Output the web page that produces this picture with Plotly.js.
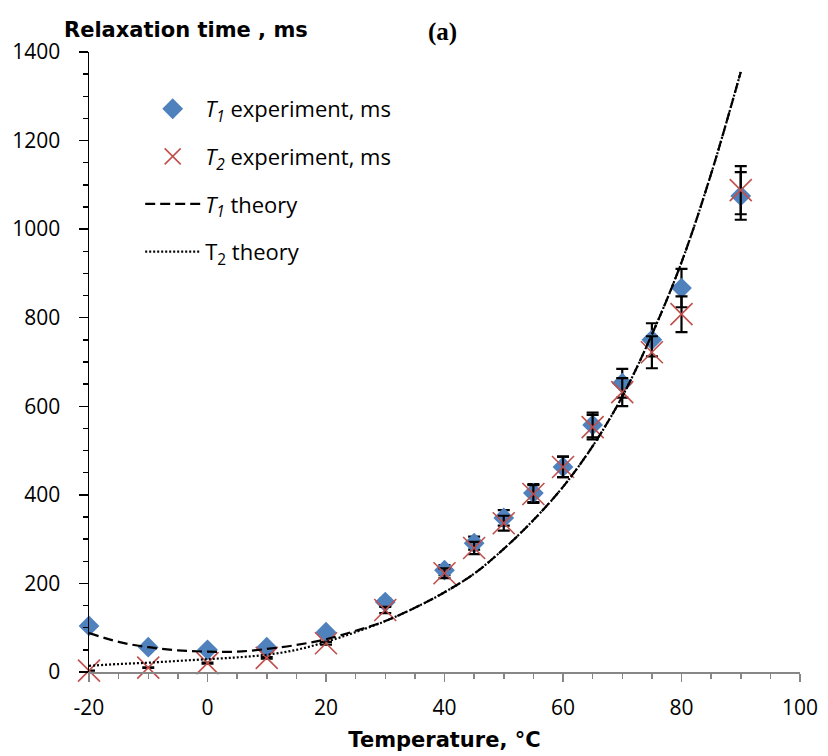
<!DOCTYPE html>
<html><head><meta charset="utf-8">
<script src="https://cdn.plot.ly/plotly-3.0.1.min.js"></script>
<style>body{margin:0;background:#fff}#c{width:828px;height:756px}</style>
</head><body><div id="c"></div>
<script>
// Experimental data
const tempExp = [-20, -10, 0, 10, 20, 30, 40, 45, 50, 55, 60, 65, 70, 75, 80, 90];
const t1Exp   = [104, 56, 50, 56, 90, 158, 230, 291, 348, 404, 463, 558, 652, 750, 867, 1075];
const t2Exp   = [3, 10, 20, 32, 65, 140, 223, 280, 336, 402, 463, 553, 632, 722, 808, 1088];
const errPercent = 5;
// Theory curves
const tempTheory = [-20, -15, -10, -5, 0, 5, 10, 15, 20, 25, 30, 35, 40, 45, 50, 55, 60, 65, 70, 75, 80, 85, 90];
const t1Theory   = [88, 68, 56, 49, 46, 46, 52, 61, 74, 93, 115, 145, 180, 222, 278, 343, 418, 510, 622, 762, 925, 1125, 1355];
const t2Theory   = [14, 18, 21, 25, 29, 33, 39, 50, 68, 90, 115, 145, 180, 222, 278, 343, 418, 510, 622, 762, 925, 1125, 1355];
// Tick labels
const xTickVals = [-20, 0, 20, 40, 60, 80, 100];
const xTickText = ['-20', '0', '20', '40', '60', '80', '100'];

const FONT = '"Open Sans", sans-serif';
const TFONT = '"DejaVu Sans", sans-serif';
const traces = [
  {x: tempExp, y: t1Exp, type: 'scatter', mode: 'markers', name: '<i>T<sub>1</sub></i> experiment, ms',
   marker: {symbol: 'diamond', size: 16, color: '#4F81BD'}, legendgroup: 'a',
   error_y: {type: 'percent', value: errPercent, color: '#000', thickness: 2.2, width: 6}, cliponaxis: false},
  {x: tempExp, y: t2Exp, type: 'scatter', mode: 'markers', name: '<i>T<sub>2</sub></i> experiment, ms',
   marker: {symbol: 'x-thin-open', size: 22, color: '#C0504D', line: {color: '#C0504D', width: 1.6}}, legendgroup: 'b',
   error_y: {type: 'percent', value: errPercent, color: '#000', thickness: 2.2, width: 6}, cliponaxis: false},
  {x: tempTheory, y: t1Theory, type: 'scatter', mode: 'lines', name: '<i>T<sub>1</sub></i> theory',
   line: {color: '#000', width: 2.2, dash: '10px,5px', shape: 'spline'}, legendgroup: 'c'},
  {x: tempTheory, y: t2Theory, type: 'scatter', mode: 'lines', name: 'T<sub>2</sub> theory',
   line: {color: '#000', width: 2.2, dash: '2px,2px', shape: 'spline'}, legendgroup: 'd'}
];

const layout = {
  width: 828, height: 756,
  margin: {l: 89, r: 28, t: 52, b: 84},
  paper_bgcolor: '#fff', plot_bgcolor: '#fff',
  showlegend: true,
  legend: {x: 0.072, y: 0.942, xanchor: 'left', yanchor: 'top', bgcolor: 'rgba(0,0,0,0)',
    font: {family: FONT, size: 22, color: '#000'}, traceorder: 'grouped', tracegroupgap: 16, itemwidth: 55},
  xaxis: {range: [-20, 100], tickvals: xTickVals, ticktext: xTickText,
    showline: true, linecolor: '#878787', linewidth: 1.5, showgrid: false, zeroline: false,
    ticks: 'outside', ticklen: 8, tickwidth: 1.5, tickcolor: '#878787', ticklabelstandoff: 8,
    tickfont: {family: FONT, size: 21, color: '#000'},
    minor: {dtick: 5, ticks: 'outside', ticklen: 5, tickcolor: '#878787', tickwidth: 1.5},
    title: {text: '<b>Temperature, °C</b>', font: {family: TFONT, size: 21, color: '#000'}, standoff: 12}},
  yaxis: {range: [0, 1400], dtick: 200,
    showline: true, linecolor: '#000', linewidth: 1.5, showgrid: false, zeroline: false,
    ticks: 'outside', ticklen: 9, tickwidth: 1.5, tickcolor: '#000', ticklabelstandoff: 14,
    tickfont: {family: FONT, size: 21, color: '#000'},
    minor: {dtick: 50, ticks: 'outside', ticklen: 5, tickcolor: '#000', tickwidth: 1.5}},
  annotations: [
    {text: '<b>Relaxation time , ms</b>', xref: 'paper', yref: 'paper', x: -0.038, y: 1.0, xanchor: 'left', yanchor: 'middle',
     yshift: 22, showarrow: false, font: {family: TFONT, size: 21, color: '#000'}},
    {text: '<b>(a)</b>', xref: 'paper', yref: 'paper', x: 0.474, y: 1.0, xanchor: 'left', yanchor: 'middle',
     yshift: 20, showarrow: false, font: {family: '"Liberation Serif", "Times New Roman", serif', size: 25, color: '#000'}}
  ]
};
Plotly.newPlot('c', traces, layout, {displayModeBar: false, staticPlot: true});
</script></body></html>
